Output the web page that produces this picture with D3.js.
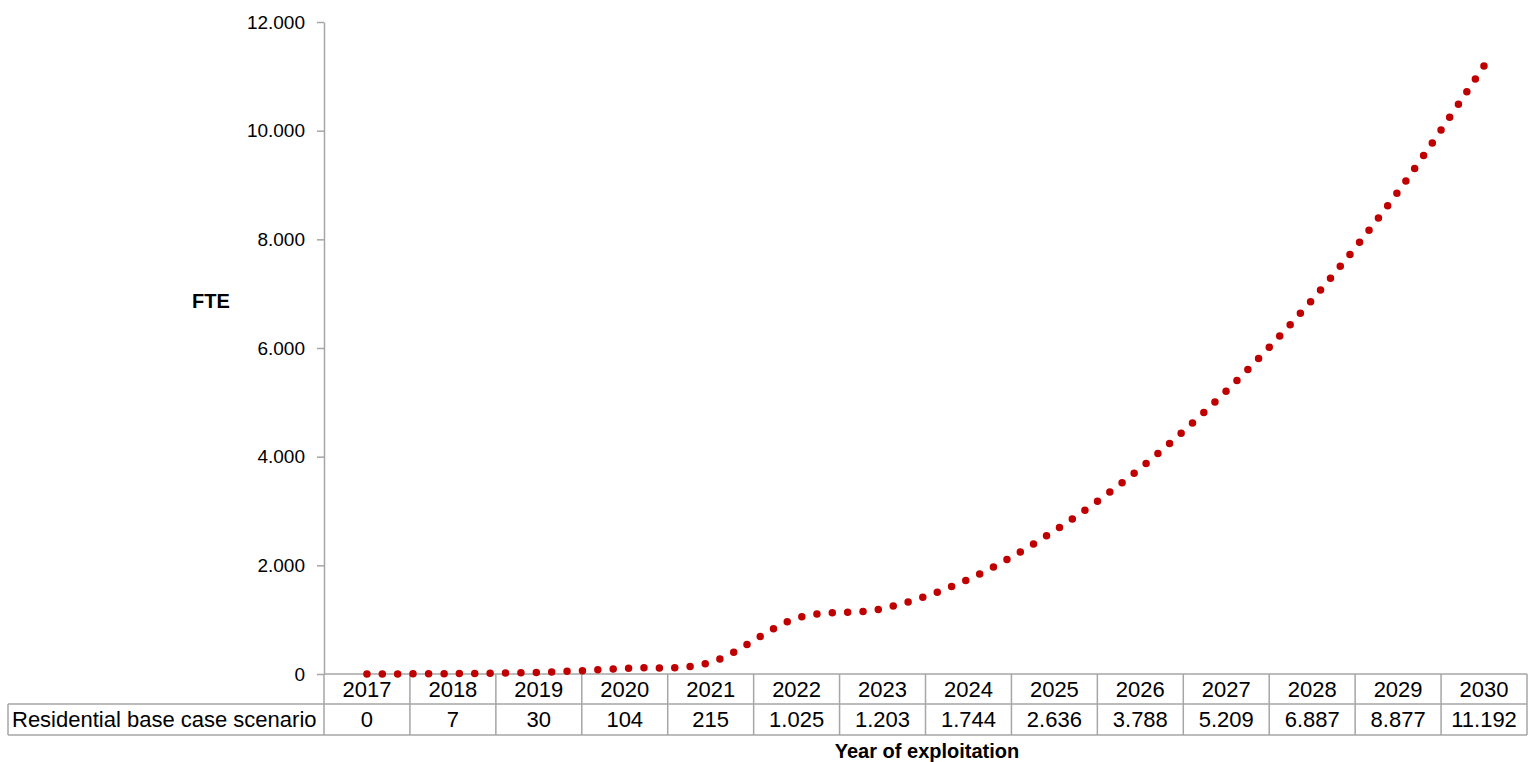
<!DOCTYPE html>
<html>
<head>
<meta charset="utf-8">
<script src="https://cdn.jsdelivr.net/npm/d3@7"></script>
<style>
  body { margin: 0; background: #fff; }
  svg { display: block; font-family: "Liberation Sans", Arial, sans-serif; }
</style>
</head>
<body>
<script>
// Data
const years = ["2017", "2018", "2019", "2020", "2021", "2022", "2023", "2024", "2025", "2026", "2027", "2028", "2029", "2030"];
const fte = [0, 7, 30, 104, 215, 1025, 1203, 1744, 2636, 3788, 5209, 6887, 8877, 11192];
const yTicks = [0, 2000, 4000, 6000, 8000, 10000, 12000];
const seriesName = "Residential base case scenario";

const width = 1531;
const height = 762;
const plotLeft = 324, plotRight = 1527, plotTop = 22, plotBottom = 674;
const row1 = 704, row2 = 735, tableLeft = 8;
const gridColor = "#a6a6a6";

// dot as thousands separator
const fmt = d3.formatLocale({ decimal: ",", thousands: ".", grouping: [3], currency: ["", ""] }).format(",d");

const svg = d3.select("body").append("svg")
  .attr("width", width)
  .attr("height", height);

const x = d3.scaleBand().domain(years).range([plotLeft, plotRight]);
const y = d3.scaleLinear().domain([0, 12000]).range([plotBottom, plotTop]);

// Y axis
const yAxis = svg.append("g")
  .attr("transform", `translate(${plotLeft},0)`)
  .call(d3.axisLeft(y).tickValues(yTicks).tickSize(7).tickSizeOuter(0).tickPadding(12).tickFormat(fmt));
yAxis.select(".domain").attr("stroke", gridColor).attr("stroke-width", 1.5);
yAxis.selectAll(".tick line").attr("stroke", gridColor).attr("stroke-width", 1.5);
yAxis.selectAll(".tick text").attr("font-size", 19).attr("fill", "#000")
  .attr("font-family", "Liberation Sans, Arial, sans-serif");

// Y axis title
svg.append("text")
  .attr("x", 211).attr("y", 308)
  .attr("text-anchor", "middle")
  .attr("font-size", 20).attr("font-weight", "bold")
  .text("FTE");

// Data table grid
const grid = svg.append("g").attr("stroke", gridColor).attr("stroke-width", 1.5).attr("fill", "none");
grid.append("line").attr("x1", plotLeft).attr("x2", plotRight).attr("y1", plotBottom).attr("y2", plotBottom);
grid.append("line").attr("x1", tableLeft).attr("x2", plotRight).attr("y1", row1).attr("y2", row1);
grid.append("line").attr("x1", tableLeft).attr("x2", plotRight).attr("y1", row2).attr("y2", row2);
grid.append("line").attr("x1", tableLeft).attr("x2", tableLeft).attr("y1", row1).attr("y2", row2);
grid.selectAll(".col").data(years).join("line")
  .attr("x1", d => x(d)).attr("x2", d => x(d))
  .attr("y1", plotBottom).attr("y2", row2);
grid.append("line").attr("x1", plotRight).attr("x2", plotRight).attr("y1", plotBottom).attr("y2", row2);

// Table text
const cx = d => x(d) + x.bandwidth() / 2;
svg.append("g").selectAll("text").data(years).join("text")
  .attr("x", cx).attr("y", 697)
  .attr("text-anchor", "middle").attr("font-size", 22)
  .text(d => d);
svg.append("g").selectAll("text").data(fte).join("text")
  .attr("x", (d, i) => cx(years[i])).attr("y", 727)
  .attr("text-anchor", "middle").attr("font-size", 22)
  .text(d => fmt(d));
svg.append("text")
  .attr("x", 12).attr("y", 727)
  .attr("font-size", 22)
  .text(seriesName);

// X axis title
svg.append("text")
  .attr("x", 927).attr("y", 758)
  .attr("text-anchor", "middle")
  .attr("font-size", 20).attr("font-weight", "bold")
  .text("Year of exploitation");

// Smoothed dotted line
const line = d3.line()
  .x((d, i) => cx(years[i]))
  .y(d => y(d))
  .curve(d3.curveCatmullRom.alpha(0));

const path = svg.append("path")
  .datum(fte)
  .attr("d", line)
  .attr("fill", "none")
  .attr("stroke", "#c00000")
  .attr("stroke-width", 7.5)
  .attr("stroke-linecap", "round");

// fit the dot spacing so a dot lands on both ends
const len = path.node().getTotalLength();
const n = Math.round(len / 15.4);
const gap = (len - 0.5) / n;
path.attr("stroke-dasharray", `0 ${gap}`);
</script>
</body>
</html>
